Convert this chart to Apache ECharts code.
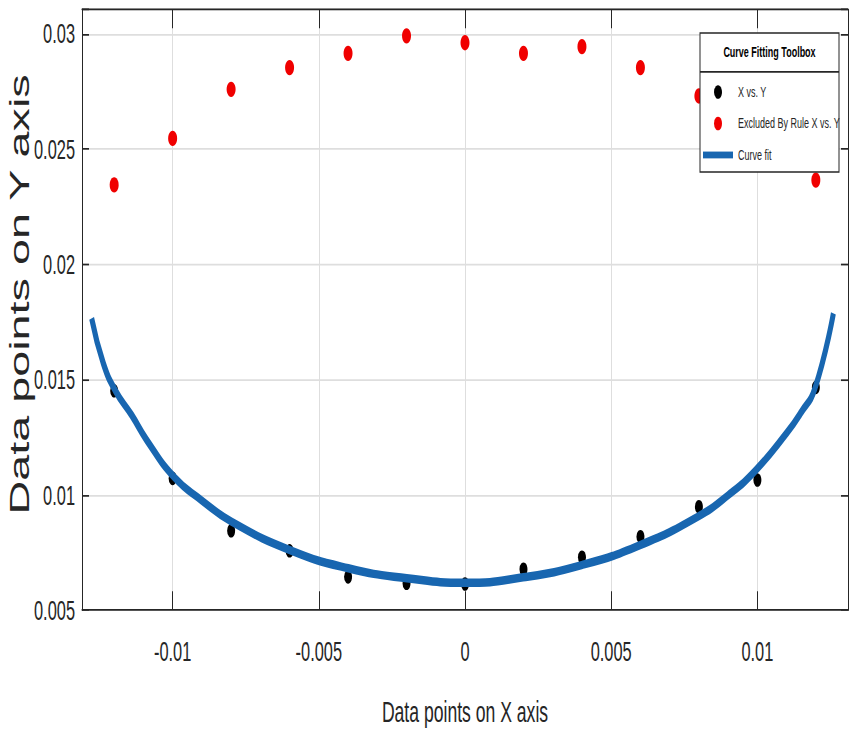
<!DOCTYPE html>
<html>
<head>
<meta charset="utf-8">
<script src="https://cdn.jsdelivr.net/npm/echarts@6/dist/echarts.min.js"></script>
<style>
  html { margin: 0; padding: 0; background: #fff; overflow: hidden; }
  body { margin: 0; padding: 0; background: #fff; width: 849px; height: 740px; }
  /* The figure is laid out on a short canvas and stretched vertically. */
  #chart { width: 849px; height: 435px; transform: scaleY(1.70115); transform-origin: 0 0; }
</style>
</head>
<body>
<div id="chart"></div>
<script>
// Sample abscissae shared by both scatter series
const xSamples = [-0.012, -0.010, -0.008, -0.006, -0.004, -0.002, 0, 0.002, 0.004, 0.006, 0.008, 0.010, 0.012];
// Points used for the fit
const yIncluded = [0.01451, 0.01071, 0.00844, 0.00757, 0.00644, 0.00616, 0.00613, 0.00677, 0.00729, 0.00818, 0.00948, 0.01064, 0.01466];
// Points excluded by rule
const yExcluded = [0.02344, 0.02546, 0.02759, 0.02853, 0.02915, 0.02991, 0.02961, 0.02915, 0.02944, 0.02853, 0.02730, 0.02550, 0.02365];
// Fitted curve, sampled along x
const fitX = [-0.01277, -0.01237, -0.01195, -0.01140, -0.01089, -0.00996, -0.00900, -0.00798, -0.00599, -0.00399, -0.00199, 0,
              0.00199, 0.00399, 0.00599, 0.00796, 0.00900, 0.00995, 0.01100, 0.01150, 0.01197, 0.01260];
const fitY = [0.01765, 0.01570, 0.01450, 0.01345, 0.01238, 0.01078, 0.00975, 0.00883, 0.00760, 0.00681, 0.00638, 0.00618,
              0.00642, 0.00695, 0.00782, 0.00905, 0.00998, 0.01107, 0.01267, 0.01358, 0.01462, 0.01787];
// Tick labels
const xTicks = [-0.01, -0.005, 0, 0.005, 0.01];
const yTicks = [0.005, 0.01, 0.015, 0.02, 0.025, 0.03];

const FONT = '"Liberation Sans", Arial, sans-serif';
const INK = '#262626';
const GRID = '#dedede';

function tickFormatter(ticks) {
  return function (v) {
    const t = ticks.find(function (t) { return Math.abs(t - v) < 1e-9; });
    return t === undefined ? '' : String(t);
  };
}

const X_MIN = -0.0131, X_MAX = 0.0131, Y_MIN = 0.005, Y_MAX = 0.03105;

const chart = echarts.init(document.getElementById('chart'), null, { renderer: 'svg' });

chart.setOption({
  animation: false,
  backgroundColor: '#fff',
  grid: { left: 82, right: 1, top: 5.6, bottom: 76.4, containLabel: false, outerBoundsMode: 'none' },
  xAxis: [
    {
      type: 'value', position: 'bottom', min: X_MIN, max: X_MAX,
      name: 'Data points on X axis', nameLocation: 'middle', nameGap: 51,
      nameTextStyle: { fontSize: 17.6, color: INK, fontFamily: FONT },
      axisLine: { show: true, onZero: false, lineStyle: { color: INK, width: 1 } },
      axisTick: { show: true, inside: true, length: 11, lineStyle: { color: INK } },
      axisLabel: { formatter: tickFormatter(xTicks), margin: 16, fontSize: 16.4, color: INK, fontFamily: FONT },
      splitLine: { show: true, lineStyle: { color: GRID, width: 1 } }
    },
    {
      type: 'value', position: 'top', min: X_MIN, max: X_MAX,
      axisLine: { show: true, onZero: false, lineStyle: { color: INK, width: 1 } },
      axisTick: { show: true, inside: true, length: 11, lineStyle: { color: INK } },
      axisLabel: { show: false },
      splitLine: { show: false }
    }
  ],
  yAxis: [
    {
      type: 'value', position: 'left', min: Y_MIN, max: Y_MAX,
      name: 'Data points on Y axis', nameLocation: 'middle', nameGap: 49, nameMoveOverlap: false,
      nameTextStyle: { fontSize: 27.5, color: INK, fontFamily: FONT, padding: [0, 0, 0, 18] },
      axisLine: { show: true, onZero: false, lineStyle: { color: INK, width: 1 } },
      axisTick: { show: true, inside: true, length: 7, lineStyle: { color: INK } },
      axisLabel: { formatter: tickFormatter(yTicks), margin: 7, fontSize: 16.4, color: INK, fontFamily: FONT, padding: [4, 0, 0, 0] },
      splitLine: { show: true, lineStyle: { color: GRID, width: 1 } }
    },
    {
      type: 'value', position: 'right', min: Y_MIN, max: Y_MAX,
      axisLine: { show: true, onZero: false, lineStyle: { color: INK, width: 1 } },
      axisTick: { show: true, inside: true, length: 7, lineStyle: { color: INK } },
      axisLabel: { show: false },
      splitLine: { show: false }
    }
  ],
  legend: {
    orient: 'vertical', left: 701, top: 49.6, padding: 0,
    itemWidth: 30, itemHeight: 8, itemGap: 9.5, z: 60,
    selectedMode: false,
    textStyle: { fontSize: 9, color: INK, fontFamily: FONT },
    data: [
      { name: 'X vs. Y', icon: 'circle' },
      { name: 'Excluded By Rule X vs. Y', icon: 'circle' },
      { name: 'Curve fit', itemStyle: { opacity: 0 }, lineStyle: { width: 4 } }
    ]
  },
  graphic: [
    { type: 'rect', z: 50, shape: { x: 700, y: 19.4, width: 139, height: 81.7 },
      style: { fill: '#fff', stroke: INK, lineWidth: 1 } },
    { type: 'line', z: 51, shape: { x1: 700, y1: 42.3, x2: 839, y2: 42.3 },
      style: { stroke: INK, lineWidth: 1 } },
    { type: 'text', z: 51, x: 769.5, y: 30.9,
      style: { text: 'Curve Fitting Toolbox', fill: '#000', fontSize: 9, fontWeight: 'bold',
               fontFamily: FONT, align: 'center', verticalAlign: 'middle' } }
  ],
  series: [
    {
      name: 'X vs. Y', type: 'scatter', xAxisIndex: 0, yAxisIndex: 0, z: 3,
      symbol: 'circle', symbolSize: 8,
      itemStyle: { color: '#000', opacity: 1 },
      data: xSamples.map(function (x, i) { return [x, yIncluded[i]]; })
    },
    {
      name: 'Excluded By Rule X vs. Y', type: 'scatter', xAxisIndex: 0, yAxisIndex: 0, z: 3,
      symbol: 'circle', symbolSize: 9,
      itemStyle: { color: '#f00000', opacity: 1 },
      data: xSamples.map(function (x, i) { return [x, yExcluded[i]]; })
    },
    {
      name: 'Curve fit', type: 'line', xAxisIndex: 0, yAxisIndex: 0, z: 4,
      smooth: 0.5, symbol: 'none',
      lineStyle: { color: '#1866b0', width: 5 },
      itemStyle: { color: '#1866b0' },
      data: fitX.map(function (x, i) { return [x, fitY[i]]; })
    }
  ]
});
</script>
</body>
</html>
